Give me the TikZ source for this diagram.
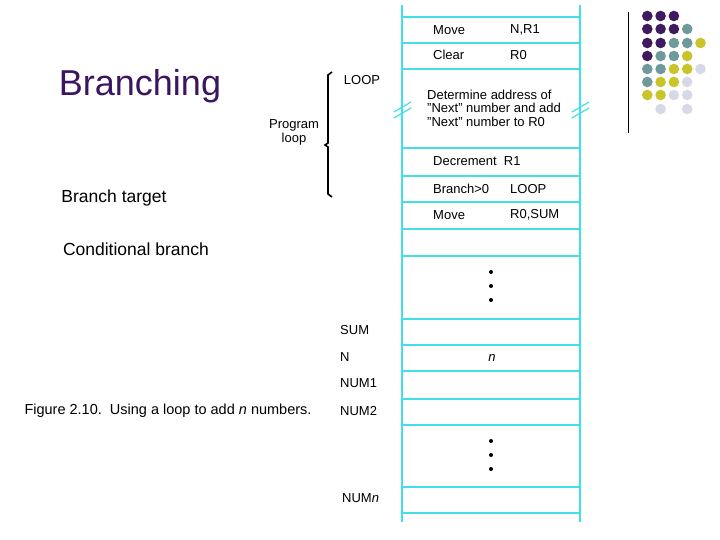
\documentclass[tikz,border=0pt]{standalone}
\usepackage{fontspec}
\setmainfont{Liberation Sans}
\usetikzlibrary{positioning}
\definecolor{memcyan}{RGB}{64,224,230}
\definecolor{titlepurple}{RGB}{59,22,96}
\definecolor{dotP}{RGB}{63,26,94}
\definecolor{dotT}{RGB}{111,154,156}
\definecolor{dotY}{RGB}{200,196,42}
\definecolor{dotL}{RGB}{216,216,232}
\tikzset{cell text/.style={anchor=west,font=\fontsize{13}{14}\selectfont,inner sep=0pt},
         side text/.style={font=\fontsize{13}{14}\selectfont,inner sep=0pt},
         mem line/.style={memcyan,line width=1.6pt},
         big text/.style={font=\fontsize{17.5}{19}\selectfont,inner sep=0pt}}
\begin{document}
\begin{tikzpicture}[x=1pt,y=-1pt]
\useasboundingbox (0,0) rectangle (720,540);

% memory column
\draw[mem line] (402,5) -- (402,522);
\draw[mem line] (580,5) -- (580,522);
\foreach \y in {17,43,69,148,176,202,229,256,319,345,371,399,425,487,513}
   \draw[mem line] (402,\y) -- (580,\y);
\foreach \x in {403,581}
  {\draw[mem line,line width=1.2pt] (\x-9,112) -- (\x+8,102);
   \draw[mem line,line width=1.2pt] (\x-9,118) -- (\x+8,108);}

% cell contents
\node[cell text] (Move1) at (433,30) {Move};
\node[cell text] (Move1Arg) at (510,30) {N,R1};
\node[cell text] (Clear) at (433,55) {Clear};
\node[cell text] (ClearArg) at (510,55) {R0};
\node[cell text,align=left,font=\fontsize{13}{13.5}\selectfont] (Determine) at (427,108)
   {Determine address of\\"Next" number and add\\"Next" number to R0};
\node[cell text] (Decrement) at (433,161) {Decrement\ \ R1};
\node[cell text] (Branch) at (433,189) {Branch>0};
\node[cell text] (BranchArg) at (510,189) {LOOP};
\node[cell text] (Move2) at (433,215) {Move};
\node[cell text] (Move2Arg) at (510,215) {R0,SUM};
\foreach \y in {272,286,300,441,455,469}
   \fill (491,\y) circle (2pt);
\node[side text] (NVal) at (492,358) {\itshape n};

% address labels
\node[cell text] (SumLabel) at (340,330) {SUM};
\node[cell text] (NLabel) at (340,357) {N};
\node[cell text] (Num1Label) at (340,383) {NUM1};
\node[cell text] (Num2Label) at (340,411) {NUM2};
\node[cell text] (NumnLabel) at (342,498) {NUM\textit{n}};
\node[side text] (LoopLabel) at (362,80) {LOOP};

% program loop bracket
\draw[line width=1.6pt] (332,72) -- (328,75) -- (328,143) -- (325,145) -- (328,147) -- (328,194) -- (332,197);
\node[side text,align=center] (ProgLoop) at (294,132) {Program\\loop};

% titles and captions
\node[font=\fontsize{36}{40}\selectfont,text=titlepurple] (Title) at (140,86) {Branching};
\node[big text] (BranchTarget) at (114,198) {Branch target};
\node[big text] (CondBranch) at (136,249) {Conditional branch};
\node[side text,font=\fontsize{14.5}{16}\selectfont] (Caption) at (168,411) {Figure 2.10.\ \ Using a loop to add \textit{n} numbers.};

% decoration
\draw[line width=0.8pt] (628,12) -- (628,133);
\foreach \c [count=\i] in {dotP,dotP,dotP}
   \fill[\c] (634+13.3*\i,16) circle (5.3);
\foreach \c [count=\i] in {dotP,dotP,dotP,dotT}
   \fill[\c] (634+13.3*\i,29) circle (5.3);
\foreach \c [count=\i] in {dotP,dotP,dotT,dotT,dotY}
   \fill[\c] (634+13.3*\i,43) circle (5.3);
\foreach \c [count=\i] in {dotP,dotT,dotT,dotY}
   \fill[\c] (634+13.3*\i,56) circle (5.3);
\foreach \c [count=\i] in {dotT,dotT,dotY,dotY,dotL}
   \fill[\c] (634+13.3*\i,69) circle (5.3);
\foreach \c [count=\i] in {dotT,dotY,dotY,dotL}
   \fill[\c] (634+13.3*\i,82) circle (5.3);
\foreach \c [count=\i] in {dotY,dotY,dotL,dotL}
   \fill[\c] (634+13.3*\i,95) circle (5.3);
\fill[dotL] (660.6,109) circle (5.3);
\fill[dotL] (687.2,109) circle (5.3);
\end{tikzpicture}
\end{document}
